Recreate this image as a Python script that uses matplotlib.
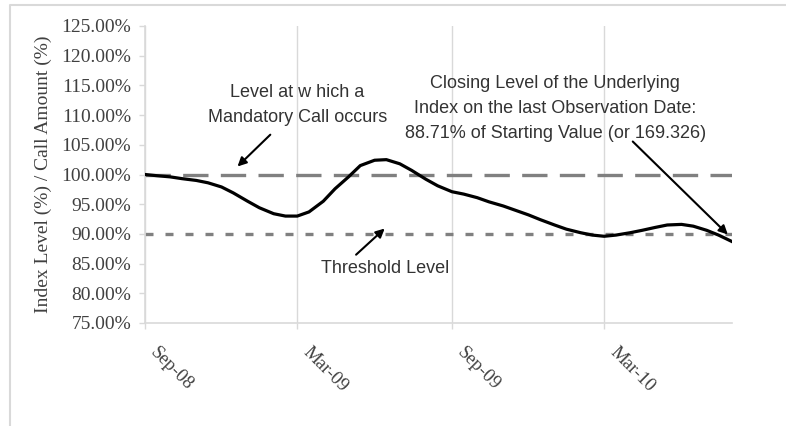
"""Index level vs. mandatory call level and threshold level."""

import matplotlib

matplotlib.use("Agg")
import matplotlib.pyplot as plt
import matplotlib.transforms as mtransforms
import numpy as np
from matplotlib.lines import Line2D

# index level (% of starting value) at semi-monthly dates
dates = [
    "2008-09-01", "2008-09-15", "2008-10-01", "2008-10-15", "2008-11-01", "2008-11-15",
    "2008-12-01", "2008-12-15", "2009-01-01", "2009-01-15", "2009-02-01", "2009-02-15",
    "2009-03-01", "2009-03-15", "2009-04-01", "2009-04-15", "2009-05-01", "2009-05-15",
    "2009-06-01", "2009-06-15", "2009-07-01", "2009-07-15", "2009-08-01", "2009-08-15",
    "2009-09-01", "2009-09-15", "2009-10-01", "2009-10-15", "2009-11-01", "2009-11-15",
    "2009-12-01", "2009-12-15", "2010-01-01", "2010-01-15", "2010-02-01", "2010-02-15",
    "2010-03-01", "2010-03-15", "2010-04-01", "2010-04-15", "2010-05-01", "2010-05-15",
    "2010-06-01", "2010-06-15", "2010-07-01", "2010-07-15", "2010-07-31",
]
index_level = [
    100.0, 99.8, 99.6, 99.3, 99.0, 98.6,
    97.9, 96.9, 95.5, 94.4, 93.4, 93.0,
    93.0, 93.7, 95.5, 97.6, 99.6, 101.5,
    102.4, 102.5, 101.8, 100.7, 99.2, 98.1,
    97.1, 96.7, 96.1, 95.4, 94.7, 94.0,
    93.2, 92.4, 91.5, 90.8, 90.2, 89.8,
    89.6, 89.8, 90.2, 90.6, 91.1, 91.5,
    91.6, 91.3, 90.6, 89.8, 88.71,
]
call_level = 100.0
threshold_level = 90.0
tick_dates = ["2008-09-01", "2009-03-01", "2009-09-01", "2010-03-01"]
tick_labels = ["Sep-08", "Mar-09", "Sep-09", "Mar-10"]
y_ticks = np.arange(75, 126, 5)

x = np.array(dates, dtype="datetime64[D]")
xt = np.array(tick_dates, dtype="datetime64[D]")
d = np.datetime64

fig = plt.figure(figsize=(7.86, 4.26), dpi=100)
ax = fig.add_axes([145 / 786, 1 - 323 / 426, (732 - 145) / 786, (323 - 26) / 426])

grid_grey = "#d9d9d9"
line_grey = "#808080"
text_grey = "#404040"

ax.axhline(call_level, color=line_grey, lw=2.4, dashes=(7.6, 3.7), zorder=2)
ax.axhline(threshold_level, color=line_grey, lw=2.4, dashes=(2.4, 3.6), zorder=2)
ax.plot(x, index_level, color="black", lw=2.3, zorder=3)

ax.set_xlim(x[0], x[-1])
ax.set_ylim(75, 125)
ax.set_yticks(y_ticks)
ax.set_yticklabels([f"{v:.2f}%" for v in y_ticks], family="Liberation Serif",
                   fontsize=14, color=text_grey)
ax.set_xticks(xt)
ax.set_xticklabels([])

# diagonal date labels, placed by hand below each tick
label_tf = ax.get_xaxis_transform() + mtransforms.ScaledTranslation(
    14 / 100, -20.5 / 100, fig.dpi_scale_trans)
for pos, lab in zip(xt, tick_labels):
    ax.text(pos, 0, lab, transform=label_tf, family="Liberation Serif",
            fontsize=13.5, color=text_grey, rotation=-45, ha="left", va="top",
            rotation_mode="anchor", clip_on=False)

ax.tick_params(axis="both", direction="out", length=4, width=1, color=grid_grey)
ax.tick_params(axis="y", pad=6)
ax.grid(axis="x", color=grid_grey, lw=1)
for side in ("top", "right"):
    ax.spines[side].set_visible(False)
for side in ("left", "bottom"):
    ax.spines[side].set_color(grid_grey)
    ax.spines[side].set_linewidth(1.2)

ax.set_ylabel("Index Level (%) / Call Amount (%)", family="Liberation Serif",
              fontsize=14, color=text_grey, labelpad=7)

note = dict(family="Liberation Sans", fontsize=13, color="#333333",
            ha="center", va="center", linespacing=1.6)
arrow = dict(arrowstyle="-|>", color="black", lw=1.5, mutation_scale=13,
             shrinkA=0, shrinkB=0)

ax.text(d("2009-03-01"), 111.7, "Level at w hich a\nMandatory Call occurs", **note)
ax.annotate("", xy=(d("2008-12-20"), 101.35), xytext=(d("2009-01-28"), 106.7),
            arrowprops=arrow)

ax.text(d("2009-06-14"), 84.1, "Threshold Level", **note)
ax.annotate("", xy=(d("2009-06-13"), 90.9), xytext=(d("2009-05-10"), 86.5),
            arrowprops=arrow)

ax.text(d("2010-01-02"), 111.1,
        "Closing Level of the Underlying\nIndex on the last Observation Date:\n"
        "88.71% of Starting Value (or 169.326)", **note)
ax.annotate("", xy=(d("2010-07-26"), 89.9), xytext=(d("2010-04-04"), 105.55),
            arrowprops=arrow)

# outer chart-area border (left and top edges only are visible)
fig.add_artist(Line2D([10 / 786, 10 / 786, 1.0], [0.0, 1 - 5 / 426, 1 - 5 / 426],
                      transform=fig.transFigure, color=grid_grey, lw=1.5))

fig.savefig("out.png", dpi=100)
